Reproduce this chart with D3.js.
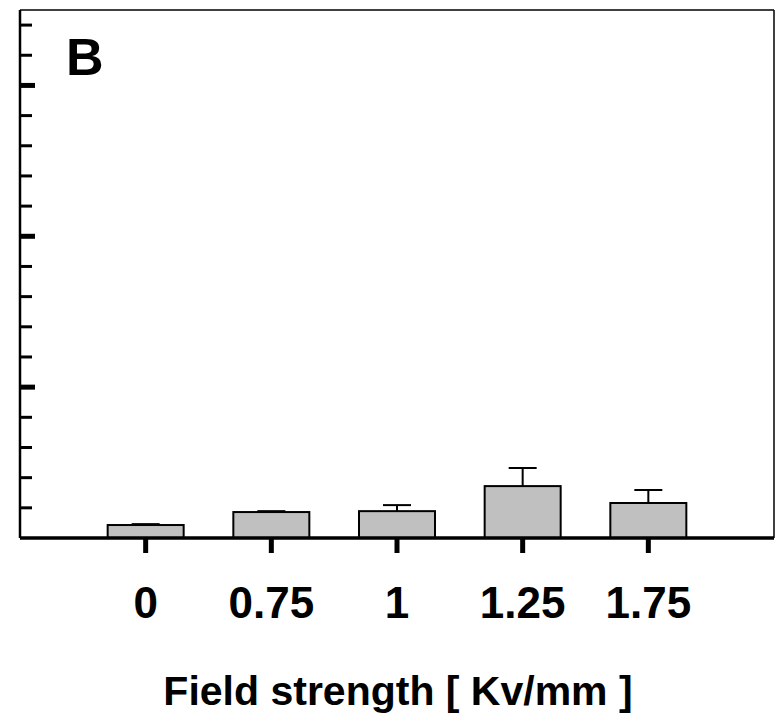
<!DOCTYPE html>
<html>
<head>
<meta charset="utf-8">
<script src="https://cdn.jsdelivr.net/npm/d3@7"></script>
<style>
  html, body { margin: 0; padding: 0; background: #fff; }
  svg { display: block; font-family: Arial, 'Liberation Sans', sans-serif; }
</style>
</head>
<body>
<svg id="chart"></svg>
<script>
const categories = ['0', '0.75', '1', '1.25', '1.75'];
const means = [0.43, 0.86, 0.89, 1.72, 1.16];
const errors = [0.03, 0.03, 0.2, 0.6, 0.43];
const yTicks = d3.range(1, 18);
const majorTicks = [5, 10, 15];

const W = 778, H = 717;
const margin = { top: 10, right: 4, bottom: 179, left: 20 };
const width = W - margin.left - margin.right;
const height = H - margin.top - margin.bottom;

const svg = d3.select('#chart').attr('width', W).attr('height', H);
const g = svg.append('g').attr('transform', `translate(${margin.left},${margin.top})`);

// index scale, one empty slot either side
const x = d3.scaleLinear().domain([-1, categories.length]).range([0, width]);
const y = d3.scaleLinear().domain([0, 17.5]).range([height, 0]);
const barW = 76;

// frame: top and right thin
g.append('line').attr('x1', 0).attr('x2', width).attr('y1', 0).attr('y2', 0)
  .attr('stroke', '#000').attr('stroke-width', 1.5);
g.append('line').attr('x1', width).attr('x2', width).attr('y1', 0).attr('y2', height)
  .attr('stroke', '#000').attr('stroke-width', 1.5);

// left axis ticks pointing inward
g.selectAll('.ytick').data(yTicks).join('line')
  .attr('class', 'ytick')
  .attr('x1', 0)
  .attr('x2', (d) => (majorTicks.includes(d) ? 15 : 12))
  .attr('y1', (d) => y(d))
  .attr('y2', (d) => y(d))
  .attr('stroke', '#000')
  .attr('stroke-width', (d) => (majorTicks.includes(d) ? 5 : 3));

g.append('line').attr('x1', 0).attr('x2', 0).attr('y1', 0).attr('y2', height)
  .attr('stroke', '#000').attr('stroke-width', 2.5);

// bars
categories.forEach((c, i) => {
  const cx = x(i);
  const top = y(means[i] + errors[i]);
  g.append('line')
    .attr('x1', cx).attr('x2', cx)
    .attr('y1', y(means[i])).attr('y2', top)
    .attr('stroke', '#000').attr('stroke-width', 2);
  g.append('line')
    .attr('x1', cx - 14).attr('x2', cx + 14)
    .attr('y1', top).attr('y2', top)
    .attr('stroke', '#000').attr('stroke-width', 2);
  g.append('rect')
    .attr('x', cx - barW / 2)
    .attr('y', y(means[i]))
    .attr('width', barW)
    .attr('height', y(0) - y(means[i]))
    .attr('fill', '#c0c0c0')
    .attr('stroke', '#000')
    .attr('stroke-width', 2);
});

// bottom axis
g.append('line').attr('x1', 0).attr('x2', width).attr('y1', height).attr('y2', height)
  .attr('stroke', '#000').attr('stroke-width', 3.5);

g.selectAll('.xtick').data(categories).join('line')
  .attr('class', 'xtick')
  .attr('x1', (d, i) => x(i)).attr('x2', (d, i) => x(i))
  .attr('y1', height).attr('y2', height + 15)
  .attr('stroke', '#000').attr('stroke-width', 5);

g.selectAll('.xlabel').data(categories).join('text')
  .attr('class', 'xlabel')
  .attr('x', (d, i) => x(i))
  .attr('y', height + 80)
  .attr('text-anchor', 'middle')
  .style('font-size', '44px')
  .style('font-weight', 'bold')
  .text((d) => d);

svg.append('text')
  .attr('x', 398)
  .attr('y', 705)
  .attr('text-anchor', 'middle')
  .style('font-size', '41px')
  .style('font-weight', 'bold')
  .text('Field strength [ Kv/mm ]');

svg.append('text')
  .attr('x', 66)
  .attr('y', 75)
  .style('font-size', '52px')
  .style('font-weight', 'bold')
  .text('B');
</script>
</body>
</html>
